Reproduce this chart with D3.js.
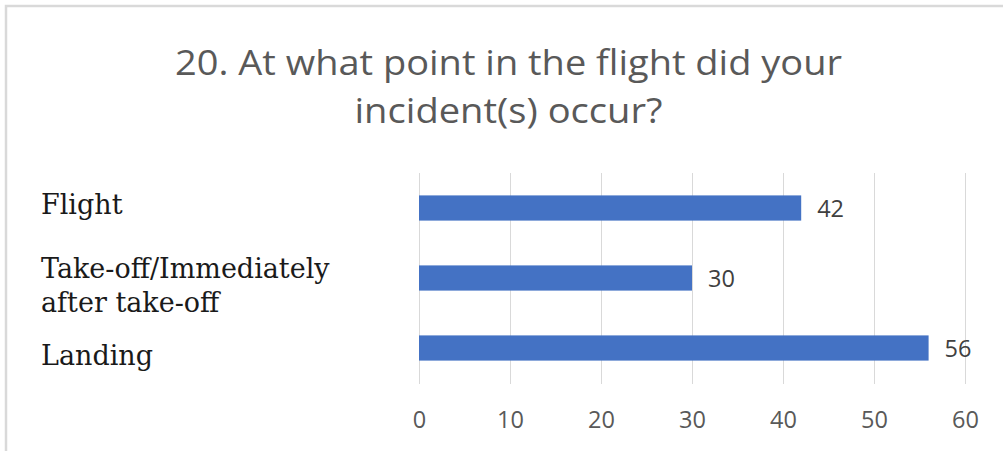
<!DOCTYPE html>
<html><head><meta charset="utf-8">
<script src="https://cdn.jsdelivr.net/npm/d3@7"></script>
<style>body{margin:0;background:#fff}svg{display:block}</style>
</head><body>
<script>
const titleLines = ["20. At what point in the flight did your", "incident(s) occur?"];
const categories = ["Flight", "Take-off/Immediately after take-off", "Landing"];
const categoryLabelLines = [["Flight"], ["Take-off/Immediately", "after take-off"], ["Landing"]];
const values = [42, 30, 56];
const xTicks = [0, 10, 20, 30, 40, 50, 60];

const W = 1003, H = 451;
const svg = d3.select("body").append("svg").attr("width", W).attr("height", H);
svg.append("rect").attr("width", W).attr("height", H).attr("fill", "#fff");

// frame
svg.append("path").attr("d", `M6,${H} V6 H${W}`).attr("fill", "none")
  .attr("stroke", "#d9d9d9").attr("stroke-width", 2.5);

// title
const titleWidths = [667, 308];
const title = svg.append("text").attr("text-anchor", "middle")
  .attr("font-family", "'Open Sans', sans-serif").attr("font-size", 34)
  .attr("fill", "#595959");
titleLines.forEach((t, i) => title.append("tspan").attr("x", 508.5).attr("y", 75 + i * 48)
  .attr("textLength", titleWidths[i]).attr("lengthAdjust", "spacingAndGlyphs").text(t));

const x = d3.scaleLinear().domain([0, 60]).range([419, 965]);
const y = d3.scaleBand().domain(categories).range([173, 383]).paddingInner(0.64).paddingOuter(0.32);

// gridlines
svg.append("g").selectAll("line").data(xTicks).join("line")
  .attr("x1", d => x(d) + 0.5).attr("x2", d => x(d) + 0.5)
  .attr("y1", 173).attr("y2", 384)
  .attr("stroke", "#d9d9d9").attr("stroke-width", 1);

// x axis
const xAxis = svg.append("g").attr("transform", "translate(0,384)")
  .call(d3.axisBottom(x).tickValues(xTicks).tickSize(0).tickPadding(27));
xAxis.select(".domain").remove();
xAxis.selectAll("text").attr("font-family", "'Open Sans', sans-serif")
  .attr("font-size", 23.5).attr("fill", "#595959");

// bars
svg.append("g").selectAll("rect").data(values).join("rect")
  .attr("x", x(0)).attr("y", (d, i) => y(categories[i]))
  .attr("width", d => x(d) - x(0)).attr("height", y.bandwidth())
  .attr("fill", "#4472c4");

// data labels
svg.append("g").selectAll("text").data(values).join("text")
  .attr("x", d => x(d) + 16).attr("y", (d, i) => y(categories[i]) + y.bandwidth() / 2 + 1)
  .attr("dy", "0.35em")
  .attr("font-family", "'Open Sans', sans-serif").attr("font-size", 23.5)
  .attr("fill", "#404040").text(d => d);

// category labels (baseline offset from band centre, per label as laid out in the original)
const labelShift = [6, 0, 17];
const catG = svg.append("g");
categories.forEach((c, i) => {
  const lines = categoryLabelLines[i];
  const cy = y(c) + y.bandwidth() / 2;
  const lh = 34;
  const t = catG.append("text").attr("font-family", "'DejaVu Serif', 'Liberation Serif', serif")
    .attr("font-size", 27).attr("fill", "#1a1a1a");
  lines.forEach((l, j) => {
    t.append("tspan").attr("x", 41)
      .attr("y", cy + labelShift[i] + j * lh)
      .text(l);
  });
});
</script>
</body></html>
